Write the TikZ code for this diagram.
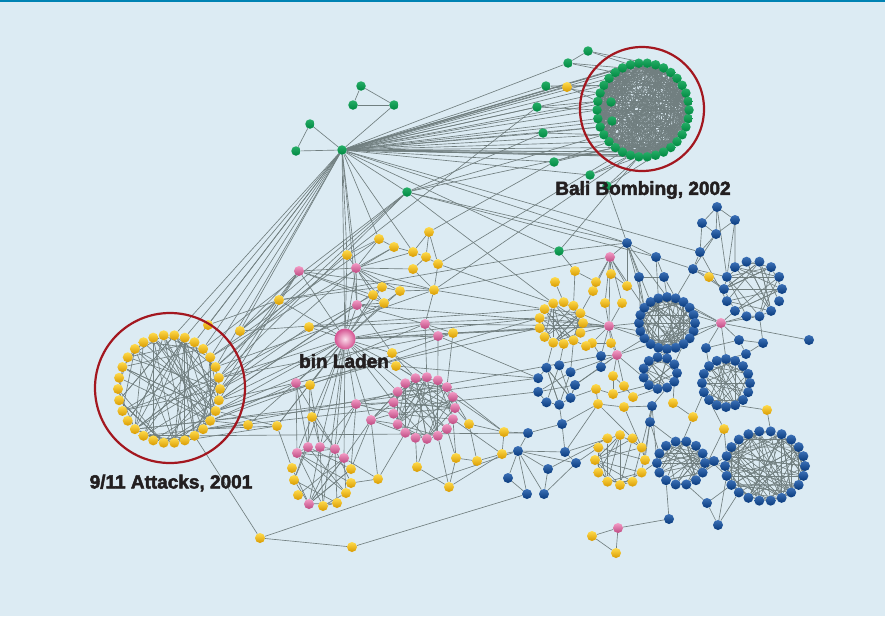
\documentclass[tikz,border=0pt]{standalone}
\usepackage{fontspec}
\newfontfamily\labelfont{Liberation Sans}[BoldFeatures={FakeBold=2.5}]

\definecolor{bgblue}{HTML}{DCEBF3}
\definecolor{topline}{HTML}{0083B3}
\definecolor{edgegray}{HTML}{717F80}
\definecolor{nodeyellow}{HTML}{FFCC00}
\definecolor{nodegreen}{HTML}{00A04C}
\definecolor{nodeblue}{HTML}{0B4DA5}
\definecolor{nodepink}{HTML}{EC5AA0}
\definecolor{ringred}{HTML}{A3171F}
\definecolor{ink}{HTML}{231F20}

\pgfdeclarelayer{back}
\pgfdeclarelayer{edges}
\pgfsetlayers{back,edges,main}

\tikzstyle{link} = [draw=edgegray, line width=0.65pt]
\tikzstyle{ynode} = [circle, inner sep=0pt, minimum size=10pt, top color=nodeyellow!70!white, middle color=nodeyellow, bottom color=nodeyellow!70!orange!85!black]
\tikzstyle{gnode} = [circle, inner sep=0pt, minimum size=9.5pt, top color=nodegreen!85!white, middle color=nodegreen, bottom color=nodegreen!85!black]
\tikzstyle{bnode} = [circle, inner sep=0pt, minimum size=10pt, top color=nodeblue!80!white, middle color=nodeblue, bottom color=nodeblue!75!black]
\tikzstyle{pnode} = [circle, inner sep=0pt, minimum size=10pt, top color=nodepink!60!white, middle color=nodepink, bottom color=nodepink!80!black]
\tikzstyle{leader} = [circle, inner sep=0pt, minimum size=21pt, shading=radial, inner color=nodepink!20!white, outer color=nodepink!90!black]
\tikzstyle{cellring} = [draw=ringred, line width=2.2pt]
\tikzstyle{tag} = [inner sep=0pt, text=ink, font=\labelfont\bfseries\fontsize{19}{19}\selectfont]

% random links inside one cell
\newcommand{\clusterlinks}[3]{%
  \foreach \k in {1,...,#3}{%
    \pgfmathtruncatemacro\lnka{random(1,#2)}%
    \pgfmathtruncatemacro\lnkb{random(1,#2)}%
    \ifnum\lnka=\lnkb\else\draw[link] (#1\lnka) -- (#1\lnkb);\fi}}

\begin{document}
\begin{tikzpicture}[x=1pt, y=-1pt]
\pgfmathsetseed{911}
\useasboundingbox (0,0) rectangle (885,616);

% Background
\begin{pgfonlayer}{back}
\fill[bgblue] (0,0) rectangle (885,616);
\fill[topline] (0,0) rectangle (885,2);
\end{pgfonlayer}

% Cells on rings
\foreach \pre/\cx/\cy/\rx/\ry/\n/\sty in {ba/643/110/46/47/34/gnode, ny/169/389/51/54/30/ynode,
    pr/424/408/31/31/17/pnode, yr/561/323/22/21/13/ynode, bs/556/385/19/20/9/bnode,
    bb/667/323/28/26/20/bnode, bu/753/289/29/28/14/bnode, bt/660/373/17/16/11/bnode,
    br/726/383/24/24/16/bnode, yl/620/460/25/25/12/ynode, bm/681/463/24/22/14/bnode,
    bg/765/466/40/35/22/bnode}{
  \foreach \i in {1,...,\n}
    \node[\sty] (\pre\i) at ({\cx+\rx*cos(360*\i/\n)},{\cy+\ry*sin(360*\i/\n)}) {};
}

% Mixed cell
\foreach \n/\x/\y/\sty in {bl1/297/453/pnode, bl2/308/447/pnode, bl3/320/447/pnode, bl4/335/449/pnode,
    bl5/344/458/pnode, bl6/351/469/ynode, bl7/351/483/ynode, bl8/346/493/ynode, bl9/337/503/ynode,
    bl10/323/506/ynode, bl11/309/504/pnode, bl12/298/495/ynode, bl13/294/480/ynode, bl14/292/468/ynode}
  \node[\sty] (\n) at (\x,\y) {};

% Green
\foreach \n/\x/\y in {g0/342/150, g1/361/86, g2/353/105, g3/394/105, g4/310/124, g5/296/151,
    g6/407/192, g7/559/251, g8/588/51, g9/568/63, g10/546/86, g11/537/107, g12/543/133,
    g13/554/162, g14/590/175, g15/607/186, bi1/611/102, bi2/612/121}
  \node[gnode] (\n) at (\x,\y) {};

% Yellow
\foreach \n/\x/\y in {y0/567/87, y1/379/239, y2/394/247, y3/413/252, y4/429/232, y5/426/257,
    y6/438/264, y7/413/269, y8/382/287, y9/373/295, y10/384/303, y11/400/291, y12/434/290,
    y13/347/255, y14/279/300, y15/309/327, y16/453/333, y17/392/353, y18/396/366, y19/310/385,
    y20/312/417, y21/469/424, y22/277/426, y23/378/479, y24/417/467, y25/456/458, y26/449/487,
    y27/504/432, y28/502/454, y29/477/461, y30/260/538, y31/352/547, y32/575/271, y33/555/282,
    y34/611/274, y35/596/282, y36/593/291, y37/627/286, y38/605/303, y39/622/303, y40/611/343,
    y41/592/343, y42/586/346, y43/613/376, y44/624/386, y45/633/397, y46/613/394, y47/596/389,
    y48/598/404, y49/624/407, y50/709/277, y51/673/403, y52/693/417, y53/767/410, y54/724/429,
    y55/592/536, y56/616/553, y57/248/425, y59/208/325, y60/240/331}
  \node[ynode] (\n) at (\x,\y) {};

% Pink
\foreach \n/\x/\y in {p1/299/271, p2/356/268, p3/357/305, p4/425/324, p5/438/336, p6/296/383,
    p7/356/404, p8/371/420, p9/610/257, p10/609/326, p11/617/355, p12/721/323, p13/618/528}
  \node[pnode] (\n) at (\x,\y) {};

% Blue
\foreach \n/\x/\y in {b1/627/243, b2/656/257, b3/639/277, b4/664/277, b5/717/207, b6/702/223,
    b7/735/220, b8/716/234, b9/700/252, b10/693/269, b11/809/340, b12/739/340, b13/763/343,
    b14/706/348, b15/746/354, b16/601/356, b17/601/367, b18/652/406, b19/650/422, b20/562/424,
    b21/528/433, b22/518/451, b23/565/452, b24/576/463, b25/548/469, b26/508/478, b27/527/494,
    b28/544/494, b29/714/461, b30/707/503, b31/718/525, b32/669/519}
  \node[bnode] (\n) at (\x,\y) {};

\node[leader] (bin) at (345,339) {};

% Links
\begin{pgfonlayer}{edges}
\clusterlinks{ba}{34}{480}
\clusterlinks{ny}{30}{95}
\clusterlinks{pr}{17}{60}
\clusterlinks{bl}{14}{30}
\clusterlinks{yr}{13}{35}
\clusterlinks{bs}{9}{18}
\clusterlinks{bb}{20}{85}
\clusterlinks{bu}{14}{40}
\clusterlinks{bt}{11}{25}
\clusterlinks{br}{16}{50}
\clusterlinks{yl}{12}{30}
\clusterlinks{bm}{14}{50}
\clusterlinks{bg}{22}{120}

% green hub and Bali
\foreach \i in {6,...,25}
  \draw[link] (g0) -- (ba\i);
\foreach \u/\v in {g1/g2, g1/g3, g2/g3, g3/g0, g4/g0, g4/g5, g5/g0, g6/g0,
    g8/g9, g8/ba26, g8/ba24, g9/ba22, g9/ba23, g10/ba19, g10/ba20, g11/ba17, g11/ba18,
    g12/ba15, g12/ba14, g13/ba12, g13/ba13, g14/ba9, g14/ba10, g15/ba7, g15/ba9,
    y0/ba20, y0/ba18, y0/g0, g0/g9, g0/g10, g0/g11, g0/g12, g0/g13, g0/g14, g0/bi1, g0/bi2,
    g6/ba12, g6/ba14, g6/g12, g11/y13, g13/y4, ba11/y6, ba10/y12, g15/b1, ba9/g7,
    g0/b1, g0/b9, g6/b2, g6/b1, g0/g7, g7/b1, g7/y14, g7/y32,
    bi1/ba15, bi1/ba19, bi2/ba14, bi2/ba17}
  \draw[link] (\u) -- (\v);

% 9/11 cell outwards
\foreach \u/\v in {ny24/g0, ny25/g0, ny26/g0, ny27/g0, ny28/g0, y59/g0, y60/g0, ny23/g0,
    ny26/g6, ny28/g6, y60/g6, ny29/g6, ny30/y14, ny29/p1, ny1/p1, ny28/y13, ny27/y1,
    ny30/y15, ny1/bin, ny2/bin, ny29/bin, ny30/p2, ny1/y8, ny2/p4, ny3/y16, ny30/y10,
    ny1/p3, ny2/yr7, ny3/bs5, ny4/b16, ny29/y9, ny2/y19, ny3/p6, ny4/y22, ny5/y30,
    ny3/pr9, ny28/y12, y60/p1, y60/y14, y59/y14, y57/ny3, y22/ny2, y22/bin, ny1/yr6,
    ny4/bs4, ny5/b21, y60/yr8, ny29/p5, y57/bin, ny27/y2, ny4/y57}
  \draw[link] (\u) -- (\v);

% bin Laden and the middle
\foreach \u/\v in {bin/g0, bin/p1, bin/p2, bin/p3, bin/y13, bin/y15, bin/y9, bin/y10,
    bin/y17, bin/y18, bin/y16, bin/p4, bin/p5, bin/p6, bin/p7, bin/p8, bin/y19, bin/y20,
    bin/pr9, bin/pr11, bin/bl3, bin/bl5, bin/bl4, bin/bl13, bin/y22, bin/yr7, bin/p10,
    bin/y14, bin/y11, bin/y8, bin/bl10, bin/pr10,
    p2/y1, p2/y2, p2/y3, p2/y8, p2/y9, p2/y10, p2/y11, p2/y12, p2/p1, p2/p3, p2/y13, p2/y7,
    g0/p2, g0/y13, g0/y3, g0/y1, g0/p3, p1/y12, p1/y9, p1/y10, p1/y14,
    y1/y2, y2/y3, y3/y4, y3/y5, y5/y6, y5/y7, y7/y12, y6/y12, y8/y9, y9/y10, y10/y11,
    y11/y12, y4/y6, y8/y11, y1/y13, y4/y5,
    p4/y12, p4/y16, p4/p3, p5/p4, p5/y16, p4/p10, p5/pr14, p4/pr13, y16/p10, y17/pr12,
    y18/pr12, p3/y17, y6/yr9, y12/yr8, y15/yr7, y16/yr6, p5/bs5, y18/bs5, p3/p10,
    y12/p9, g6/yr9, y14/y8, p3/y10}
  \draw[link] (\u) -- (\v);

% pink cell and lower left
\foreach \u/\v in {p8/pr6, p8/pr7, p8/pr8, p8/pr9, p8/pr10, p8/pr11, p7/pr8, p7/pr9,
    p7/pr10, pr12/y18, pr13/y17, pr15/y16, pr16/y21, pr17/y21, pr1/y25, pr2/y25,
    pr3/y26, pr4/y24, pr5/y24, pr6/y23, pr16/y27, pr14/y27, pr1/y28,
    p8/bl5, p7/bl4, p7/bl6, p8/y23, p6/bl1, p6/bl2, y19/bl2, y20/bl1, y20/bl3,
    y22/bl14, bl5/y23, bl7/y23, bl6/p8, p7/bl3, p6/bl4, y19/bl3, y20/bl4,
    y27/y28, y28/y29, y29/y21, y21/y27, y24/y26, y25/y26, y25/y29, y27/b21, y28/b22,
    y26/y28, y30/y31, y30/b22, y31/b27, y22/ny6}
  \draw[link] (\u) -- (\v);

% right side
\foreach \u/\v in {b1/b2, b1/b3, b1/bb13, b1/bb12, b1/bb15, b2/b4, b2/b10, b2/bb14,
    b3/b4, b3/bb11, b3/bb12, b4/bb15, b4/bb16, b1/p9, b1/y37,
    b5/b6, b5/b7, b5/b8, b6/b8, b7/b8, b6/b9, b8/b9, b8/b10, b7/bu9, b9/b10, b10/bu7,
    b10/bu8, b9/bu6, y50/bu7, b10/bb16, y50/b10, b5/bu8, b7/bu8,
    p12/bb18, p12/bb19, p12/bb1, p12/bu5, p12/bu4, p12/b11, p12/b12, p12/b14, p12/br12,
    p12/bb2, p12/bb17, p12/bu3, b12/b13, b12/b15, b13/b15, b13/bu3, b14/br10, b15/br12,
    b14/b12, bb4/bt8, bb5/bt7, bb5/bt9, bb6/bt8, bb3/bt10,
    p11/b16, p11/b17, p11/y40, p11/bb8, p11/bb7, p11/bt5, p11/bs9, p11/bs8, p11/y43,
    p11/y44, p11/p10, p10/yr13, p10/yr12, p10/yr1, p10/y38, p10/y39, p10/y40, p10/bb10,
    p10/bb9, p10/bb8, p10/p9, p10/y41, p10/b16,
    p9/y34, p9/y35, p9/y36, p9/y37, p9/y38, p9/y39, p9/bb12,
    y33/yr10, y32/y35, y35/y36, y36/yr12, y32/yr11, y34/y37,
    y40/y41, y41/y42, y42/yr2, b16/b17, b17/bs9, b16/y41,
    y43/y44, y44/y45, y43/y46, y46/y47, y47/y48, y48/y49, y45/bt3, y46/bt4, y47/bs1,
    b18/b19, b18/y49, b18/yl2, b19/yl1, b19/bm8, b18/bm7, b18/bt2, y51/y52, y51/bt1,
    y52/br7, y52/bm5, y53/bg17, y53/br3, y54/bg12, y54/bm1, y54/br6,
    b29/bm1, b29/bg11, b29/bm14, b30/bg9, b30/b31, b31/bg8, b30/bm3, b32/bm5, b32/p13,
    p13/y55, p13/y56, y55/y56, b31/bg10,
    b20/b21, b20/b23, b20/bs2, b20/y48, b21/b22, b22/b25, b22/b26, b22/b27, b22/b28,
    b22/b23, b22/b24, b26/b27, b25/b28, b23/b24, b23/y48, b24/yl7, b25/yl8, b28/b24,
    yl10/y48, yl11/y49, yl12/b18, yl9/b23, bm11/yl1, bm10/b19,
    bg11/bm14, bg12/bm1, bg10/bm13, bs7/yr3, bs6/yr4, bs8/yr2}
  \draw[link] (\u) -- (\v);
\end{pgfonlayer}

% Cells marked
\draw[cellring] (642,109) circle[radius=62];
\draw[cellring] (170,388) circle[radius=75];

% Labels
\node[tag] (bali) at (643,190) {Bali Bombing, 2002};
\node[tag] (nyc) at (171,483) {9/11 Attacks, 2001};
\node[tag] (osama) at (344,361) {bin Laden};

\end{tikzpicture}
\end{document}
